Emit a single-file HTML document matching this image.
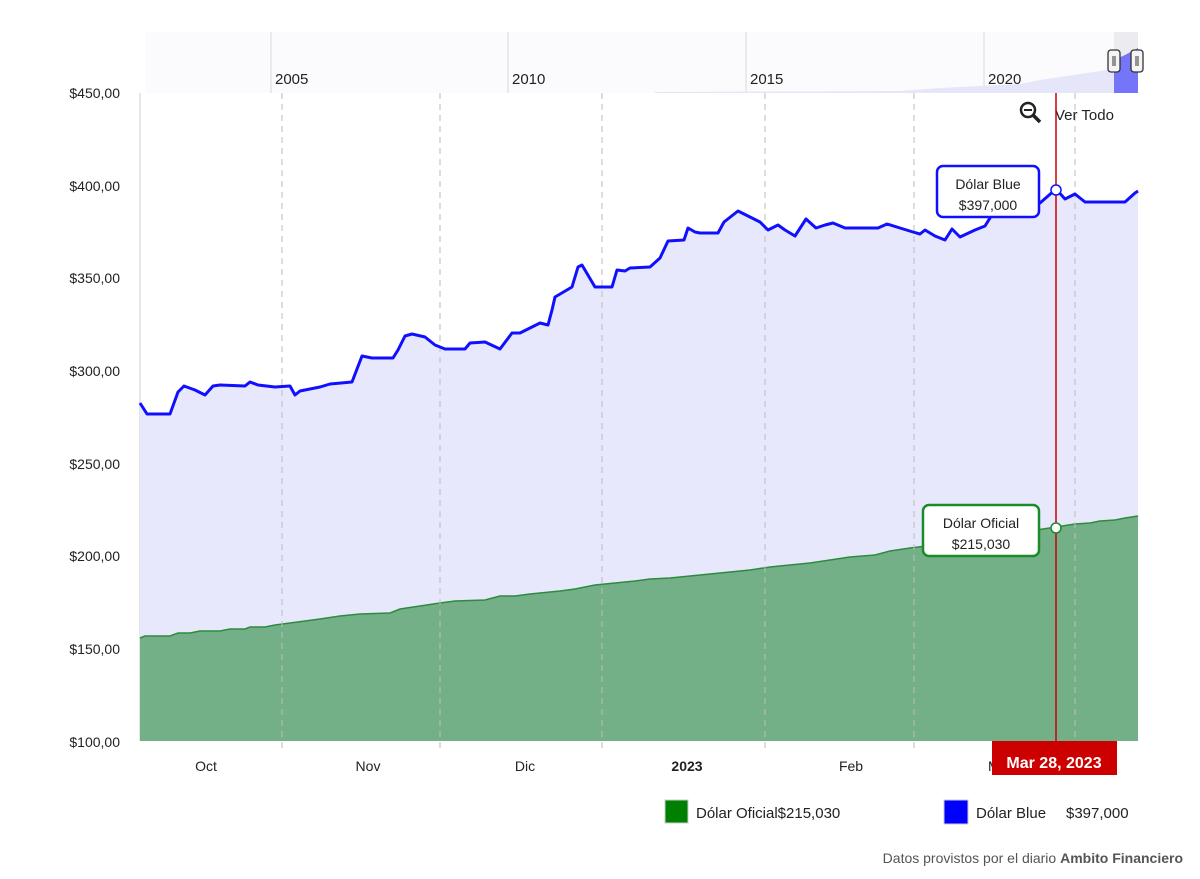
<!DOCTYPE html>
<html><head><meta charset="utf-8"><style>
html,body{margin:0;padding:0;background:#fff;}
svg{display:block;font-family:"Liberation Sans",Arial,sans-serif;}
</style></head><body>
<svg width="1200" height="879" viewBox="0 0 1200 879" xmlns="http://www.w3.org/2000/svg">
<!-- navigator -->
<rect x="145" y="32" width="993" height="61" fill="#fbfbfd"/>
<g stroke="#d8d8d8" stroke-width="1">
<line x1="271" y1="32" x2="271" y2="93"/><line x1="508" y1="32" x2="508" y2="93"/>
<line x1="746" y1="32" x2="746" y2="93"/><line x1="984" y1="32" x2="984" y2="93"/>
</g>
<g font-size="15" fill="#222">
<text x="275" y="84">2005</text><text x="512" y="84">2010</text>
<text x="750" y="84">2015</text><text x="988" y="84">2020</text>
</g>
<path d="M655,93 L655,92 L900,91 L940,88 L980,86 L1020,84 L1040,80 L1060,77 L1080,74 L1100,71 L1114,68 L1114,93 Z" fill="#e6e6fb"/>
<rect x="1114" y="32" width="24" height="61" fill="#ececf0"/>
<path d="M1114,60 L1125,55 L1138,48 L1138,93 L1114,93 Z" fill="#7575fa"/>
<g fill="#f4f4f4" stroke="#333" stroke-width="1.3">
<rect x="1108" y="50" width="12" height="22" rx="3"/><rect x="1131" y="50" width="12" height="22" rx="3"/>
</g>
<g stroke="#333" stroke-width="1"><line x1="1113" y1="56" x2="1113" y2="66"/><line x1="1115" y1="56" x2="1115" y2="66"/><line x1="1136" y1="56" x2="1136" y2="66"/><line x1="1138" y1="56" x2="1138" y2="66"/></g>
<!-- main plot -->
<line x1="140" y1="93" x2="140" y2="741" stroke="#ccc"/>
<path id="blue" d="M140,403 L147,414 L170,414 L178,392 L184,386 L195,390 L205,395 L213,386 L220,385 L245,386 L250,382 L258,385 L275,387 L290,386 L295,395 L300,391 L320,387 L330,384 L352,382 L362,356 L372,358 L393,358 L398,350 L405,336 L412,334 L425,337 L435,345 L445,349 L465,349 L470,343 L485,342 L500,349 L512,333 L520,333 L540,323 L548,325 L552,310 L555,297 L572,287 L578,267 L582,265 L595,287 L612,287 L617,270 L625,271 L630,268 L650,267 L660,258 L668,241 L684,240 L688,228 L695,232 L700,233 L718,233 L724,222 L738,211 L748,216 L760,222 L768,230 L778,225 L785,230 L795,236 L806,219 L816,228 L825,225 L833,223 L845,228 L878,228 L887,224 L900,228 L913,232 L920,234 L925,230 L935,236 L945,240 L952,229 L960,237 L975,230 L985,226 L995,210 L1003,206 L1020,206 L1040,203 L1056,189 L1065,199 L1075,194 L1085,202 L1125,202 L1135,193 L1138,191" fill="none"/>
<path d="M140,403 L147,414 L170,414 L178,392 L184,386 L195,390 L205,395 L213,386 L220,385 L245,386 L250,382 L258,385 L275,387 L290,386 L295,395 L300,391 L320,387 L330,384 L352,382 L362,356 L372,358 L393,358 L398,350 L405,336 L412,334 L425,337 L435,345 L445,349 L465,349 L470,343 L485,342 L500,349 L512,333 L520,333 L540,323 L548,325 L552,310 L555,297 L572,287 L578,267 L582,265 L595,287 L612,287 L617,270 L625,271 L630,268 L650,267 L660,258 L668,241 L684,240 L688,228 L695,232 L700,233 L718,233 L724,222 L738,211 L748,216 L760,222 L768,230 L778,225 L785,230 L795,236 L806,219 L816,228 L825,225 L833,223 L845,228 L878,228 L887,224 L900,228 L913,232 L920,234 L925,230 L935,236 L945,240 L952,229 L960,237 L975,230 L985,226 L995,210 L1003,206 L1020,206 L1040,203 L1056,189 L1065,199 L1075,194 L1085,202 L1125,202 L1135,193 L1138,191 L1138,741 L140,741 Z" fill="#e8e8fd"/>
<path d="M140,638 L145,636 L170,636 L178,633 L190,633 L200,631 L220,631 L230,629 L245,629 L250,627 L265,627 L275,625 L290,623 L305,621 L320,619 L340,616 L360,614 L390,613 L400,609 L420,606 L440,603 L455,601 L485,600 L500,596 L515,596 L530,594 L560,591 L575,589 L595,585 L615,583 L635,581 L650,579 L670,578 L690,576 L710,574 L730,572 L750,570 L770,567 L790,565 L810,563 L830,560 L850,557 L875,555 L890,551 L910,548 L935,545 L960,541 L980,538 L1000,535 L1030,531 L1056,527 L1075,524 L1090,523 L1100,521 L1115,520 L1125,518 L1138,516 L1138,741 L140,741 Z" fill="#74b087"/>
<path d="M140,638 L145,636 L170,636 L178,633 L190,633 L200,631 L220,631 L230,629 L245,629 L250,627 L265,627 L275,625 L290,623 L305,621 L320,619 L340,616 L360,614 L390,613 L400,609 L420,606 L440,603 L455,601 L485,600 L500,596 L515,596 L530,594 L560,591 L575,589 L595,585 L615,583 L635,581 L650,579 L670,578 L690,576 L710,574 L730,572 L750,570 L770,567 L790,565 L810,563 L830,560 L850,557 L875,555 L890,551 L910,548 L935,545 L960,541 L980,538 L1000,535 L1030,531 L1056,527 L1075,524 L1090,523 L1100,521 L1115,520 L1125,518 L1138,516" fill="none" stroke="#2e8b3e" stroke-width="1.5"/>
<g stroke="#bbb" stroke-dasharray="6,5" stroke-width="1">
<line x1="282" y1="93" x2="282" y2="750"/><line x1="440" y1="93" x2="440" y2="750"/>
<line x1="602" y1="93" x2="602" y2="750"/><line x1="765" y1="93" x2="765" y2="750"/>
<line x1="914" y1="93" x2="914" y2="750"/><line x1="1075" y1="93" x2="1075" y2="750"/>
</g>
<path d="M140,403 L147,414 L170,414 L178,392 L184,386 L195,390 L205,395 L213,386 L220,385 L245,386 L250,382 L258,385 L275,387 L290,386 L295,395 L300,391 L320,387 L330,384 L352,382 L362,356 L372,358 L393,358 L398,350 L405,336 L412,334 L425,337 L435,345 L445,349 L465,349 L470,343 L485,342 L500,349 L512,333 L520,333 L540,323 L548,325 L552,310 L555,297 L572,287 L578,267 L582,265 L595,287 L612,287 L617,270 L625,271 L630,268 L650,267 L660,258 L668,241 L684,240 L688,228 L695,232 L700,233 L718,233 L724,222 L738,211 L748,216 L760,222 L768,230 L778,225 L785,230 L795,236 L806,219 L816,228 L825,225 L833,223 L845,228 L878,228 L887,224 L900,228 L913,232 L920,234 L925,230 L935,236 L945,240 L952,229 L960,237 L975,230 L985,226 L995,210 L1003,206 L1020,206 L1040,203 L1056,189 L1065,199 L1075,194 L1085,202 L1125,202 L1135,193 L1138,191" fill="none" stroke="#1010ff" stroke-width="3" stroke-linejoin="round"/>
<!-- y labels -->
<g font-size="14" fill="#222" text-anchor="end">
<text x="120" y="98">$450,00</text><text x="120" y="191">$400,00</text>
<text x="120" y="283">$350,00</text><text x="120" y="376">$300,00</text>
<text x="120" y="469">$250,00</text><text x="120" y="561">$200,00</text>
<text x="120" y="654">$150,00</text><text x="120" y="747">$100,00</text>
</g>
<g font-size="14" fill="#222" text-anchor="middle">
<text x="206" y="771">Oct</text><text x="368" y="771">Nov</text><text x="525" y="771">Dic</text>
<text x="687" y="771" font-weight="bold">2023</text><text x="851" y="771">Feb</text><text x="1000" y="771">Mar</text>
</g>
<!-- zoom -->
<circle cx="1028" cy="110" r="7" fill="none" stroke="#222" stroke-width="2.5"/>
<line x1="1024" y1="110" x2="1032" y2="110" stroke="#222" stroke-width="2"/>
<line x1="1033" y1="115" x2="1040" y2="122" stroke="#222" stroke-width="3.5"/>
<text x="1055" y="120" font-size="15" fill="#222">Ver Todo</text>
<!-- crosshair -->
<line x1="1056" y1="93" x2="1056" y2="745" stroke="#c00" stroke-width="1.5"/>
<rect x="992" y="741" width="125" height="34" fill="#cc0000"/>
<text x="1054" y="768" font-size="16" font-weight="bold" fill="#fff" text-anchor="middle">Mar 28, 2023</text>
<!-- tooltips -->
<rect x="937" y="166" width="102" height="51" rx="6" fill="#fff" stroke="#1010ff" stroke-width="2.5"/>
<text x="988" y="189" font-size="14" fill="#222" text-anchor="middle">Dólar Blue</text>
<text x="988" y="210" font-size="14" fill="#222" text-anchor="middle">$397,000</text>
<circle cx="1056" cy="190" r="5" fill="#fff" stroke="#1010ff" stroke-width="1.5"/>
<rect x="923" y="505" width="116" height="51" rx="6" fill="#fff" stroke="#1a8a2a" stroke-width="2.5"/>
<text x="981" y="528" font-size="14" fill="#222" text-anchor="middle">Dólar Oficial</text>
<text x="981" y="549" font-size="14" fill="#222" text-anchor="middle">$215,030</text>
<circle cx="1056" cy="528" r="5" fill="#fff" stroke="#1a8a2a" stroke-width="1.5"/>
<!-- legend -->
<rect x="665" y="800" width="23" height="23" fill="#008000" stroke="#ccc"/>
<text x="696" y="818" font-size="15" fill="#222">Dólar Oficial$215,030</text>
<rect x="944" y="800" width="24" height="24" fill="#0000ff" stroke="#ccc"/>
<text x="976" y="818" font-size="15" fill="#222">Dólar Blue  <tspan x="1066">$397,000</tspan></text>
<text x="1183" y="863" font-size="14" fill="#555" text-anchor="end">Datos provistos por el diario <tspan font-weight="bold">Ambito Financiero</tspan></text>
</svg>
</body></html>
